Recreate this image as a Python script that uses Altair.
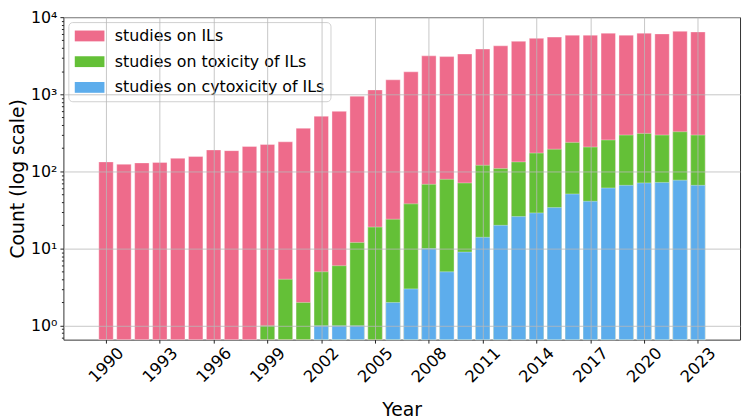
import altair as alt
import pandas as pd

years = list(range(1990, 2024))
ils = [133, 124, 129, 131, 148, 156, 190, 186, 211, 224, 242, 363, 520, 601, 946, 1140,
       1540, 1955, 3150, 3080, 3330, 3860, 4250, 4870, 5310, 5510, 5840, 5840, 6200, 5840,
       6200, 6070, 6560, 6430]
tox = [None] * 9 + [1, 4, 2, 5, 6, 12, 19, 24, 38, 68, 79, 71, 120, 109, 133, 173, 194,
                    238, 207, 256, 296, 311, 296, 327, 296]
cyto = [None] * 12 + [1, 1, 1, None, 2, 3, 10, 5, 9, 14, 20, 26, 29, 34, 51, 41, 61, 66,
                      71, 72, 77, 66]

series_names = ["studies on ILs", "studies on toxicity of ILs", "studies on cytoxicity of ILs"]
series_colors = ["#ee6b8b", "#64c037", "#5dadec"]

rows = []
for name, vals in zip(series_names, [ils, tox, cyto]):
    for y, v in zip(years, vals):
        if v is not None:
            rows.append({"Year": y, "Count": v, "Series": name})
df = pd.DataFrame(rows)

YMIN, YMAX = 0.66, 10000
major = [1, 10, 100, 1000, 10000]
minor = [0.7, 0.8, 0.9] + [m * 10 ** k for k in range(0, 4) for m in range(2, 10)]
ytick_values = sorted(major + minor)
xtick_values = list(range(1990, 2024, 3))

FONT = "DejaVu Sans"
is_major = "abs(log(datum.value)/LN10 - round(log(datum.value)/LN10)) < 0.000001"

label_expr = ("datum.value == 1 ? '10⁰' : datum.value == 10 ? '10¹' : datum.value == 100 ? '10²' : "
              "datum.value == 1000 ? '10³' : datum.value == 10000 ? '10⁴' : ''")

chart = alt.Chart(df).mark_bar(size=14.6, stroke="white", strokeWidth=0.6, strokeOpacity=0.6).encode(
    x=alt.X("Year:Q",
            scale=alt.Scale(domain=[1987.9, 2025.07], nice=False, zero=False),
            axis=alt.Axis(values=xtick_values, format="d", title="Year",
                          labelAngle=-45, labelAlign="center", labelBaseline="middle",
                          labelPadding=22, labelFontSize=16.5, labelFont=FONT, labelColor="black",
                          titleFont=FONT, titleFontSize=19, titleFontWeight="normal", titleColor="black",
                          titlePadding=15,
                          tickSize=3.5, tickColor="#222", domain=False,
                          grid=True, gridColor="#b8b8b8", gridWidth=0.8, zindex=1)),
    y=alt.Y("Count:Q",
            scale=alt.Scale(type="log", domain=[YMIN, YMAX], nice=False),
            axis=alt.Axis(values=ytick_values, labelExpr=label_expr, title="Count (log scale)",
                          labelFontSize=16, labelFont=FONT, labelColor="black", labelPadding=3,
                          titleFont=FONT, titleFontSize=19, titleFontWeight="normal", titleColor="black",
                          titlePadding=3,
                          tickSize={"condition": {"test": is_major, "value": 3.5}, "value": 2},
                          tickColor="#222", domain=False,
                          grid=True, gridColor="#b8b8b8", gridWidth=0.8,
                          gridOpacity={"condition": {"test": is_major, "value": 1}, "value": 0},
                          zindex=1)),
    y2=alt.Y2(datum=YMIN),
    color=alt.Color("Series:N",
                    scale=alt.Scale(domain=series_names, range=series_colors),
                    legend=alt.Legend(title=None, orient="top-left", offset=5,
                                      symbolType="M-1,-0.73H3V0.73H-1Z", symbolSize=225,
                                      symbolStrokeWidth=0, symbolOpacity=1,
                                      labelFont=FONT, labelFontSize=16, labelColor="black",
                                      labelOffset=25, labelLimit=0, rowPadding=10, padding=6,
                                      fillColor="white", strokeColor="#d0d0d0", cornerRadius=4)),
).properties(
    width=684, height=326,
    autosize=alt.AutoSizeParams(type="none"),
    padding={"left": 56, "top": 7, "right": 2, "bottom": 80},
).configure_view(stroke="#333", strokeWidth=1)

chart.save("out.html", embed_options={"renderer": "svg", "actions": False})
